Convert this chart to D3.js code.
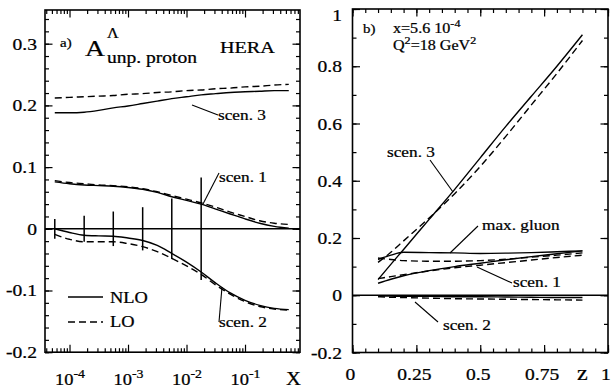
<!DOCTYPE html>
<html>
<head>
<meta charset="utf-8">
<script src="https://cdn.jsdelivr.net/npm/d3@7"></script>
<style>
body { margin: 0; background: #fff; }
svg text { font-family: "Liberation Serif", "Times New Roman", serif; fill: #000; stroke: #000; stroke-width: 0.25px; }
</style>
</head>
<body>
<svg id="chart" width="612" height="392"></svg>
<script>
// panel a): asymmetry vs x (log), HERA
var xNodes = [5.6e-5, 1e-4, 1.78e-4, 3.16e-4, 5.6e-4, 1e-3, 1.78e-3, 3.16e-3, 5.6e-3,
  1e-2, 1.78e-2, 3.16e-2, 5.6e-2, 0.1, 0.178, 0.316, 0.56];
var aScen3NLO = [0.188, 0.188, 0.189, 0.192, 0.196, 0.199, 0.203, 0.207, 0.211,
  0.214, 0.217, 0.219, 0.221, 0.222, 0.223, 0.224, 0.224];
var aScen3LO = [0.212, 0.213, 0.214, 0.215, 0.216, 0.218, 0.219, 0.221, 0.222,
  0.224, 0.225, 0.227, 0.228, 0.230, 0.231, 0.233, 0.234];
var aScen1NLO = [0.076, 0.073, 0.071, 0.070, 0.069, 0.067, 0.064, 0.059, 0.052,
  0.046, 0.040, 0.032, 0.024, 0.016, 0.009, 0.004, 0.001];
var aScen1LO = [0.078, 0.075, 0.073, 0.071, 0.070, 0.068, 0.065, 0.060, 0.054,
  0.048, 0.042, 0.035, 0.027, 0.020, 0.013, 0.009, 0.007];
var aScen2NLO = [0, -0.006, -0.0105, -0.0115, -0.012, -0.015, -0.019, -0.027, -0.040,
  -0.054, -0.070, -0.088, -0.104, -0.116, -0.124, -0.129, -0.131];
var aScen2LO = [-0.009, -0.017, -0.021, -0.021, -0.021, -0.024, -0.029, -0.037, -0.048,
  -0.060, -0.074, -0.091, -0.106, -0.118, -0.126, -0.130, -0.132];
var errX = [5.6e-5, 1.78e-4, 5.6e-4, 1.78e-3, 5.6e-3, 1.78e-2];
var errHalf = [0.016, 0.021, 0.028, 0.035, 0.049, 0.083];
var aYMajor = [-0.2, -0.1, 0, 0.1, 0.2, 0.3];
var aYLabels = ['-0.2', '-0.1', '0', '0.1', '0.2', '0.3'];
var aXMajor = [1e-4, 1e-3, 1e-2, 1e-1];
var aXExp = ['-4', '-3', '-2', '-1'];

// panel b): asymmetry vs z at x=5.6e-4
var zNodes = [0.1, 0.15, 0.2, 0.3, 0.4, 0.5, 0.6, 0.7, 0.8, 0.9];
var bScen3NLO = [0.055, 0.108, 0.16, 0.265, 0.37, 0.48, 0.59, 0.695, 0.80, 0.91];
var bScen3LO = [0.115, 0.15, 0.19, 0.27, 0.355, 0.45, 0.555, 0.665, 0.775, 0.89];
var bGluonNLO = [0.125, 0.14, 0.15, 0.149, 0.148, 0.146, 0.147, 0.149, 0.152, 0.155];
var bGluonLO = [0.13, 0.125, 0.121, 0.119, 0.119, 0.121, 0.126, 0.133, 0.14, 0.148];
var bScen1NLO = [0.042, 0.056, 0.068, 0.086, 0.1, 0.112, 0.124, 0.135, 0.145, 0.155];
var bScen1LO = [0.058, 0.065, 0.072, 0.085, 0.096, 0.105, 0.114, 0.123, 0.132, 0.14];
var bScen2NLO = [-0.002, -0.003, -0.004, -0.004, -0.005, -0.005, -0.006, -0.007, -0.008, -0.008];
var bScen2LO = [-0.005, -0.007, -0.008, -0.01, -0.012, -0.013, -0.014, -0.015, -0.016, -0.017];
var bYMajor = [-0.2, 0, 0.2, 0.4, 0.6, 0.8, 1];
var bYLabels = ['-0.2', '0', '0.2', '0.4', '0.6', '0.8', '1'];
var bXMajor = [0, 0.25, 0.5, 0.75, 1];
var bXLabels = ['0', '0.25', '0.5', '0.75', '1'];

var svg = d3.select('#chart');
var stretch = 1.15;
var dash = '7,4';

var xL = d3.scaleLog().domain([3.81e-5, 0.871]).range([45, 300]);
var yL = d3.scaleLinear().domain([-0.2, 0.3546]).range([352.2, 10]);
var xR = d3.scaleLinear().domain([0, 1]).range([352.5, 608]);
var yR = d3.scaleLinear().domain([-0.2, 1]).range([352.5, 9]);

// text with optional super/subscript parts, slightly widened like the original
var txt = function(x, y, size, parts, anchor) {
  var t = svg.append('text')
    .attr('transform', 'translate(' + x + ',' + y + ') scale(' + stretch + ',1)')
    .attr('text-anchor', anchor || 'start')
    .style('font-size', size + 'px');
  var shift = 0;
  parts.forEach(function(p) {
    if (typeof p === 'string') p = [p, ''];
    var target = p[1] === 'sup' ? -0.45 * size : (p[1] === 'sub' ? 0.3 * size : 0);
    t.append('tspan')
      .attr('dy', target - shift)
      .style('font-size', (p[1] ? size * 0.75 : size) + 'px')
      .text(p[0]);
    shift = target;
  });
  return t;
};

var leader = function(x1, y1, x2, y2) {
  svg.append('line').attr('x1', x1).attr('y1', y1).attr('x2', x2).attr('y2', y2)
    .attr('stroke', '#000').attr('stroke-width', 1.1);
};

var axes = function(x, y, xMinor, xMajor, yMinor, yMajor) {
  var x0 = x.range()[0], x1 = x.range()[1], y0 = y.range()[0], y1 = y.range()[1];
  var defs = [
    [d3.axisBottom(x), 'translate(0,' + y0 + ')', xMinor, xMajor],
    [d3.axisTop(x), 'translate(0,' + y1 + ')', xMinor, xMajor],
    [d3.axisLeft(y), 'translate(' + x0 + ',0)', yMinor, yMajor],
    [d3.axisRight(y), 'translate(' + x1 + ',0)', yMinor, yMajor]
  ];
  defs.forEach(function(d) {
    [[d[2], 4], [d[3], 7.5]].forEach(function(s) {
      var g = svg.append('g').attr('transform', d[1])
        .call(d[0].tickValues(s[0]).tickSize(-s[1]).tickFormat(''));
      g.select('.domain').remove();
      g.selectAll('line').attr('stroke-width', 1.2);
    });
  });
  svg.append('rect').attr('x', x0).attr('y', y1).attr('width', x1 - x0).attr('height', y0 - y1)
    .attr('fill', 'none').attr('stroke', '#000').attr('stroke-width', 1.6);
  svg.append('line').attr('x1', x0).attr('x2', x1).attr('y1', y(0)).attr('y2', y(0))
    .attr('stroke', '#000').attr('stroke-width', 1.4);
};

var curve = function(x, y, xs, vals, dashed) {
  var line = d3.line().x(function(d) { return x(d[0]); }).y(function(d) { return y(d[1]); })
    .curve(d3.curveMonotoneX);
  svg.append('path').attr('d', line(d3.zip(xs, vals)))
    .attr('fill', 'none').attr('stroke', '#000').attr('stroke-width', 1.4)
    .attr('stroke-dasharray', dashed ? dash : null);
};

// ---- panel a)
var aXMinor = xL.ticks().filter(function(d) {
  return Math.abs(Math.log10(d) - Math.round(Math.log10(d))) > 1e-6;
});
var aYMinor = d3.range(-10, 18).map(function(i) { return i * 0.02; });
axes(xL, yL, aXMinor, aXMajor, aYMinor, aYMajor);

curve(xL, yL, xNodes, aScen3NLO, false);
curve(xL, yL, xNodes, aScen3LO, true);
curve(xL, yL, xNodes, aScen1NLO, false);
curve(xL, yL, xNodes, aScen1LO, true);
curve(xL, yL, xNodes, aScen2NLO, false);
curve(xL, yL, xNodes, aScen2LO, true);

svg.selectAll('.err').data(d3.zip(errX, errHalf)).enter().append('line')
  .attr('class', 'err')
  .attr('x1', function(d) { return xL(d[0]); })
  .attr('x2', function(d) { return xL(d[0]); })
  .attr('y1', function(d) { return yL(d[1]); })
  .attr('y2', function(d) { return yL(-d[1]); })
  .attr('stroke', '#000').attr('stroke-width', 1.5);

aYMajor.forEach(function(v, i) {
  txt(37, yL(v) + 6, 17, [aYLabels[i]], 'end');
});
aXMajor.forEach(function(v, i) {
  txt(xL(v) - 14.5, 385, 16, ['10', [aXExp[i], 'sup']]);
});
txt(286, 385, 18, ['X']);

txt(60, 47, 13, ['a)']);
txt(85, 56, 24, ['A']);
txt(107, 38, 14, ['\u039B']);
txt(107, 63, 17, ['unp. proton']);
txt(220, 53, 17.5, ['HERA']);

leader(192, 105, 218, 115);
txt(218, 120, 15, ['scen. 3']);
leader(219, 173, 203, 204);
txt(219, 182, 15, ['scen. 1']);
leader(219, 322, 222, 287);
txt(219, 327, 15, ['scen. 2']);

svg.append('line').attr('x1', 68).attr('x2', 103).attr('y1', 297).attr('y2', 297)
  .attr('stroke', '#000').attr('stroke-width', 1.4);
txt(110, 303, 16, ['NLO']);
svg.append('line').attr('x1', 68).attr('x2', 103).attr('y1', 322).attr('y2', 322)
  .attr('stroke', '#000').attr('stroke-width', 1.4).attr('stroke-dasharray', dash);
txt(110, 327, 16, ['LO']);

// ---- panel b)
var bXMinor = d3.range(0, 21).map(function(i) { return i * 0.05; });
var bYMinor = d3.range(-2, 11).map(function(i) { return i * 0.1; });
axes(xR, yR, bXMinor, bXMajor, bYMinor, bYMajor);

curve(xR, yR, zNodes, bScen3NLO, false);
curve(xR, yR, zNodes, bScen3LO, true);
curve(xR, yR, zNodes, bGluonNLO, false);
curve(xR, yR, zNodes, bGluonLO, true);
curve(xR, yR, zNodes, bScen1NLO, false);
curve(xR, yR, zNodes, bScen1LO, true);
curve(xR, yR, zNodes, bScen2NLO, false);
curve(xR, yR, zNodes, bScen2LO, true);

bYMajor.forEach(function(v, i) {
  txt(342, Math.max(yR(v) + 6, 21), 17, [bYLabels[i]], 'end');
});
bXMajor.forEach(function(v, i) {
  txt(xR(v) - 2, 380, 17, [bXLabels[i]], 'middle');
});
txt(577, 380, 21, ['z']);

txt(363, 33, 13, ['b)']);
txt(393, 33, 14, ['x=5.6 10', ['-4', 'sup']]);
txt(393, 50, 14, ['Q', ['2', 'sup'], '=18 GeV', ['2', 'sup']]);

leader(430, 160, 453, 192);
txt(387, 157, 15, ['scen. 3']);
leader(478, 226, 450, 253);
txt(482, 230, 15, ['max. gluon']);
leader(477, 267, 512, 283);
txt(513, 287, 15, ['scen. 1']);
leader(415, 302, 438, 322);
txt(443, 330, 15, ['scen. 2']);
</script>
</body>
</html>
